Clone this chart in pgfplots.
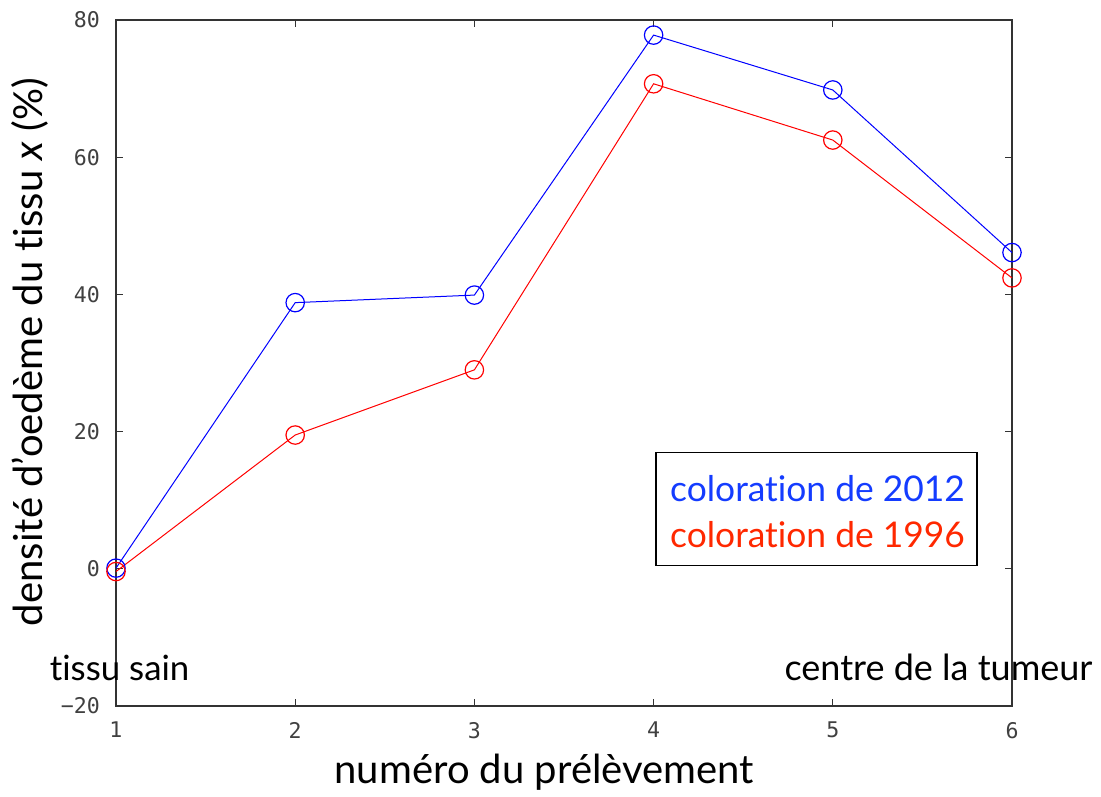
\documentclass[border=0pt]{standalone}
\usepackage{fontspec}
\setmainfont{Lato}[Ligatures=NoCommon]
\newfontfamily\tickfont{DejaVu Sans Mono}
\usepackage{pgfplots}
\pgfplotsset{compat=1.18}
\definecolor{legblue}{RGB}{20,60,255}
\definecolor{legred}{RGB}{255,40,0}
\begin{document}
\begin{tikzpicture}
\begin{axis}[
  scale only axis,
  width=448bp, height=343bp,
  xmin=1, xmax=6, ymin=-20, ymax=80,
  xtick={1,2,3,4,5,6},
  ytick={-20,0,20,40,60,80},
  yticklabels={−20,0,20,40,60,80},
  tick align=inside,
  major tick length=3.5bp,
  axis line style={black!80, line width=0.6bp},
  every tick/.style={black!80, line width=0.6bp},
  tick label style={font=\tickfont\fontsize{10.8bp}{12bp}\selectfont, text=black!75},
  /pgf/number format/assume math mode=true,
  yticklabel style={xshift=-4.5bp},
  xticklabel style={yshift=-4.5bp},
  clip=false,
  xlabel={numéro du prélèvement},
  ylabel={densité d’oedème du tissu \textit{x} (\%)},
  every axis x label/.style={at={(rel axis cs:0.478,-0.096)}, anchor=center, font=\fontsize{20bp}{24bp}\selectfont},
  every axis y label/.style={at={(rel axis cs:-0.096,0.516)}, anchor=center, rotate=90, font=\fontsize{20bp}{24bp}\selectfont},
]
\addplot[blue, line width=0.5bp, mark=o, mark size=4.6bp, mark options={line width=0.6bp}] coordinates {
  (1,0.1) (2,38.8) (3,39.9) (4,77.8) (5,69.8) (6,46.1)
};
\addplot[red, line width=0.5bp, mark=o, mark size=4.6bp, mark options={line width=0.6bp}] coordinates {
  (1,-0.4) (2,19.5) (3,29.0) (4,70.7) (5,62.5) (6,42.4)
};
\draw[black, line width=0.6bp, fill=white] (axis cs:4.013,16.9) rectangle (axis cs:5.805,0.44);
\node[anchor=west, inner sep=0pt, text=legblue, font=\fontsize{17.7bp}{21bp}\selectfont] at (axis cs:4.09,11.66) {coloration de 2012};
\node[anchor=west, inner sep=0pt, text=legred, font=\fontsize{17.7bp}{21bp}\selectfont] at (axis cs:4.09,4.96) {coloration de 1996};
\node[font=\fontsize{17.4bp}{21bp}\selectfont, inner sep=0pt] at (axis cs:1.02,-14.4) {tissu sain};
\node[font=\fontsize{18bp}{21bp}\selectfont, inner sep=0pt] at (axis cs:5.59,-14.4) {centre de la tumeur};
\end{axis}
\pgfresetboundingbox
\path[use as bounding box] (current axis.south west) ++(-58bp,-45.5bp) rectangle ++(550.5bp,398.5bp);
\end{tikzpicture}
\end{document}
